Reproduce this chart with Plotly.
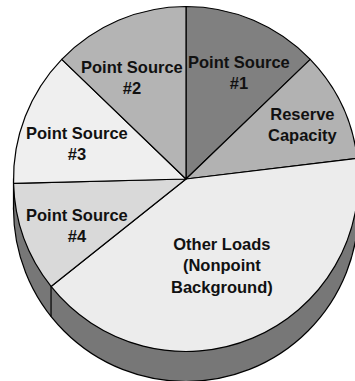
import math

import plotly.graph_objects as go

# clockwise from 12 o'clock (percent of the pie)
LABELS = ["Point Source<br>#1", "Reserve<br>Capacity", "Other Loads<br>(Nonpoint<br>Background)",
          "Point Source<br>#4", "Point Source<br>#3", "Point Source<br>#2"]
SHARES = [12.8, 10.3, 41.2, 10.3, 12.6, 12.8]
COLORS = ["#808080", "#b2b2b2", "#ececec", "#d9d9d9", "#efefef", "#b4b4b4"]
# label centres in pixels from the top left
LABEL_X = [239, 303, 221.5, 77, 77, 132]
LABEL_Y = [72, 124.5, 265, 225, 143, 77.5]

# figure is a bit larger than the window, the pie runs past its right edge
W = 362
H = 385
DEPTH_COLOR = "#777777"
CX, CY, R = 186, 179, 172.5
DEPTH = 30
OUTLINE = dict(color="black", width=1.2)


def x_dom():
    return [(CX - R) / W, (CX + R) / W]


def y_dom(cy):
    return [1 - (cy + R) / H, 1 - (cy - R) / H]


fig = go.Figure()

# the rim is a plain dark pie sitting under the top one
fig.add_trace(go.Pie(
    values=[1],
    marker=dict(colors=[DEPTH_COLOR], line=OUTLINE),
    textinfo="none",
    hoverinfo="skip",
    sort=False,
    domain=dict(x=x_dom(), y=y_dom(CY + DEPTH)),
))
fig.add_trace(go.Pie(
    values=SHARES,
    marker=dict(colors=COLORS, line=OUTLINE),
    textinfo="none",
    hoverinfo="skip",
    sort=False,
    direction="clockwise",
    rotation=0,
    domain=dict(x=x_dom(), y=y_dom(CY)),
))

# fills the notch between the two circles at the far left and right
fig.add_shape(
    type="rect", xref="paper", yref="paper", layer="below",
    x0=(CX - R) / W, x1=(CX + R) / W, y0=1 - (CY + DEPTH) / H, y1=1 - CY / H,
    fillcolor=DEPTH_COLOR, line=OUTLINE,
)

# rim edge under the Other Loads / Point Source #4 boundary
angle = math.radians(sum(SHARES[:3]) * 3.6)
edge_x = (CX + R * math.sin(angle)) / W
edge_y = CY - R * math.cos(angle)
fig.add_shape(
    type="line", xref="paper", yref="paper",
    x0=edge_x, x1=edge_x, y0=1 - edge_y / H, y1=1 - (edge_y + DEPTH) / H,
    line=OUTLINE,
)

for label, x, y in zip(LABELS, LABEL_X, LABEL_Y):
    fig.add_annotation(
        x=x / W, y=1 - y / H, xref="paper", yref="paper",
        xanchor="center", yanchor="middle",
        text="<b>" + label + "</b>", showarrow=False,
        font=dict(family="Liberation Sans", size=16.5, color="#111111"),
        align="center",
    )

fig.update_layout(
    width=W,
    height=H,
    margin=dict(l=0, r=0, t=0, b=0),
    paper_bgcolor="white",
    showlegend=False,
)

# page margin off, no scrollbars for the overflow
fig.write_html(
    "out.html",
    config={"displayModeBar": False},
    post_script="document.body.style.margin='0';document.documentElement.style.overflow='hidden';",
)
